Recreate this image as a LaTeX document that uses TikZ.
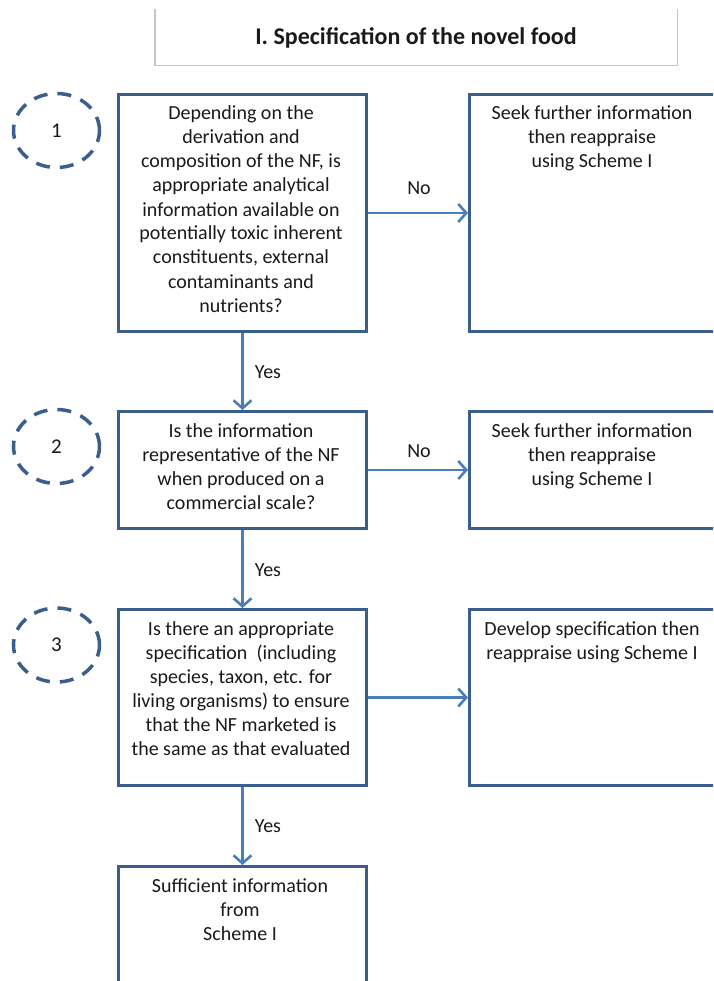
\documentclass[tikz,border=0pt]{standalone}
\usepackage{fontspec}
\setmainfont{Carlito}
\usetikzlibrary{arrows.meta,shapes.geometric}
\definecolor{boxc}{HTML}{3B5F8C}
\definecolor{arrc}{HTML}{4A7EBB}
\definecolor{titc}{HTML}{C6C6C6}
\definecolor{txtc}{HTML}{1A1A1A}
\begin{document}
\begin{tikzpicture}[x=1pt,y=-1pt,
  flowbox/.style={draw=boxc, line width=3pt, fill=white, anchor=north west, inner sep=0pt},
  txt/.style={anchor=north, align=center, inner sep=0pt, text=txtc, font=\fontsize{20}{24}\selectfont},
  lbl/.style={inner sep=0pt, text=txtc, font=\fontsize{20}{24}\selectfont},
  num/.style={draw=boxc, ellipse, line width=3.5pt, dash pattern=on 14pt off 10pt, minimum width=86pt, minimum height=74pt, inner sep=0pt, text=txtc, font=\fontsize{21}{24}\selectfont},
  arr/.style={draw=arrc, line width=2.6pt, -{Straight Barb[length=8pt,width=18pt,line width=2.6pt]}}
]
\clip (0,0) rectangle (713,981);
\fill[white] (0,0) rectangle (713,981);

% title
\node[inner sep=0pt, minimum width=522pt, minimum height=56pt, anchor=north west] (title) at (155,9) {};
\draw[titc, line width=1.2pt] (title.north west) -- (title.south west) -- (title.south east) -- (title.north east);
\node[inner sep=0pt, text=txtc, font=\fontsize{24}{28}\selectfont\bfseries] (titletext) at (416,38) {I. Specification of the novel food};

% boxes
\node[flowbox, minimum width=248pt, minimum height=237pt] (b1) at (117,93) {};
\node[flowbox, minimum width=248pt, minimum height=237pt] (r1) at (468,93) {};
\node[flowbox, minimum width=248pt, minimum height=117pt] (b2) at (117,410) {};
\node[flowbox, minimum width=248pt, minimum height=117pt] (r2) at (468,410) {};
\node[flowbox, minimum width=248pt, minimum height=176pt] (b3) at (117,608) {};
\node[flowbox, minimum width=248pt, minimum height=176pt] (r3) at (468,608) {};
\node[flowbox, minimum width=248pt, minimum height=140pt] (b4) at (117,865) {};

% texts (first-line baseline = y + 16.8)
\node[txt] (t1) at (241,103) {\strut Depending on the\\derivation and\\composition of the NF, is\\appropriate analytical\\information available on\\potentially toxic inherent\\constituents, external\\contaminants and\\nutrients?};
\node[txt] (s1) at (592,103) {\strut Seek further information\\then reappraise\\using Scheme I};
\node[txt] (t2) at (241,420) {\strut Is the information\\representative of the NF\\when produced on a\\commercial scale?};
\node[txt] (s2) at (592,420) {\strut Seek further information\\then reappraise\\using Scheme I};
\node[txt] (t3) at (241,618) {\strut Is there an appropriate\\specification~ (including\\species, taxon, etc. for\\living organisms) to ensure\\that the NF marketed is\\the same as that evaluated};
\node[txt] (s3) at (592,618) {\strut Develop specification then\\reappraise using Scheme I};
\node[txt] (t4) at (240,875) {\strut Sufficient information\\from\\Scheme I};

% numbered circles
\node[num] (c1) at (56.5,130.5) {1};
\node[num] (c2) at (56.5,446.5) {2};
\node[num] (c3) at (56.5,645) {3};

% connectors
\draw[arr] (b1.east) -- (r1.west);
\draw[arr] (b2.east) -- (r2.west);
\draw[arr] (b3.east) -- (r3.west);
\draw[arr] (b1.south) -- (b2.north);
\draw[arr] (b2.south) -- (b3.north);
\draw[arr] (b3.south) -- (b4.north);

% labels
\node[lbl] (no1) at (419,188) {No};
\node[lbl] (no2) at (419,451) {No};
\node[lbl] (yes1) at (268,372) {Yes};
\node[lbl] (yes2) at (268,570) {Yes};
\node[lbl] (yes3) at (268,826) {Yes};
\end{tikzpicture}
\end{document}
